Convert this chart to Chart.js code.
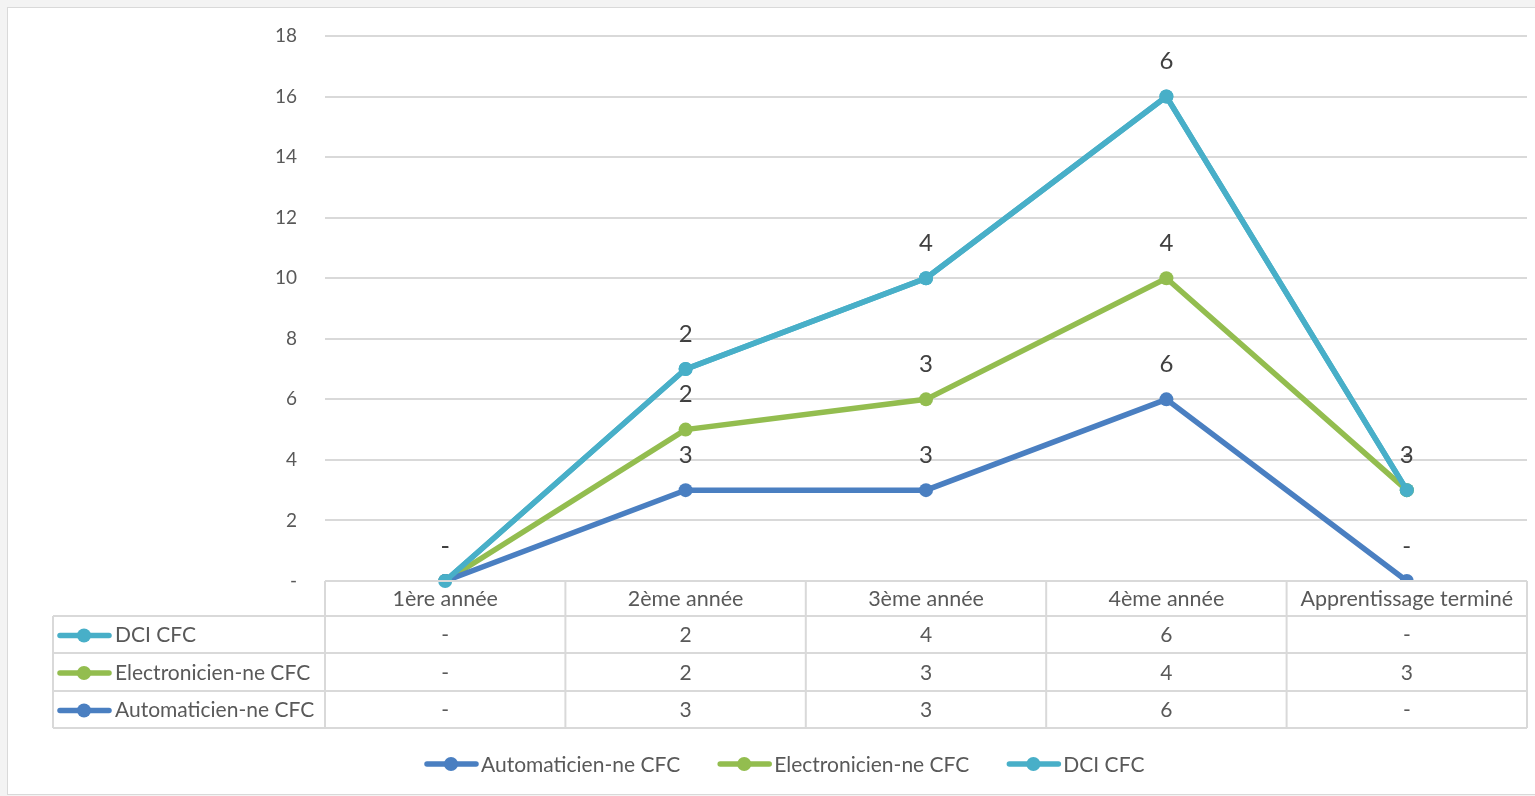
<!DOCTYPE html>
<html>
<head>
<meta charset="utf-8">
<title>Apprentis par année</title>
<script src="https://cdn.jsdelivr.net/npm/chart.js@4.4.1/dist/chart.umd.min.js"></script>
<style>
  html, body { margin: 0; padding: 0; background: #f3f3f3; }
  #frame { position: absolute; left: 7px; top: 7px; width: 1540px; height: 786px; background: #fff; border: 1px solid #d9d9d9; }
  canvas { position: absolute; left: 0; top: 0; }
</style>
</head>
<body>
<div id="frame"></div>
<canvas id="chart" width="1535" height="796"></canvas>
<script>
// Categories (school years)
const categories = ['1ère année', '2ème année', '3ème année', '4ème année', 'Apprentissage terminé'];

// Apprentices per trade and year (stacked in the chart)
const automaticien = [0, 3, 3, 6, 0];
const electronicien = [0, 2, 3, 4, 3];
const dci = [0, 2, 4, 6, 0];

const seriesNames = ['Automaticien-ne CFC', 'Electronicien-ne CFC', 'DCI CFC'];
const seriesColors = ['#4a7fc1', '#93bd4f', '#48afc8'];

// Y axis ticks
const yTicks = [0, 2, 4, 6, 8, 10, 12, 14, 16, 18];

const FONT = 'Lato, "Open Sans", sans-serif';
const TEXT = '#595959';
const GRID = '#d9d9d9';

const fmt = v => (v === 0 ? '-' : String(v));

// Draws the value labels, the data table under the plot and the legend
const extras = {
  id: 'extras',
  afterDatasetsDraw(chart) {
    const ctx = chart.ctx;
    // keep the DCI line on top of the others
    chart.getDatasetMeta(2).controller.draw();

    ctx.save();
    ctx.font = '24px ' + FONT;
    ctx.fillStyle = '#404040';
    ctx.textAlign = 'center';
    ctx.textBaseline = 'middle';
    chart.data.datasets.forEach((ds, di) => {
      const meta = chart.getDatasetMeta(di);
      meta.data.forEach((pt, i) => {
        ctx.fillText(fmt(ds.data[i]), pt.x, pt.y - 35);
      });
    });
    ctx.restore();
  },
  afterDraw(chart) {
    const ctx = chart.ctx;
    const area = chart.chartArea;
    const xs = chart.scales.x;
    const left = 53;
    const rowTop = area.bottom;
    const rowH = [35, 37, 38, 37];
    const ys = [rowTop];
    rowH.forEach(h => ys.push(ys[ys.length - 1] + h));
    const half = (xs.getPixelForValue(1) - xs.getPixelForValue(0)) / 2;
    const colEdges = categories.map((c, i) => xs.getPixelForValue(i) - half);
    colEdges.push(area.right);

    ctx.save();
    ctx.strokeStyle = GRID;
    ctx.lineWidth = 2;
    // horizontal rules
    ctx.beginPath();
    ctx.moveTo(area.left, ys[0]); ctx.lineTo(area.right, ys[0]);
    for (let r = 1; r < ys.length; r++) {
      ctx.moveTo(left, ys[r]); ctx.lineTo(area.right, ys[r]);
    }
    // vertical rules
    colEdges.forEach(x => { ctx.moveTo(x, ys[0]); ctx.lineTo(x, ys[ys.length - 1]); });
    ctx.moveTo(left, ys[1]); ctx.lineTo(left, ys[ys.length - 1]);
    ctx.stroke();

    ctx.font = '21px ' + FONT;
    ctx.fillStyle = TEXT;
    ctx.textAlign = 'center';
    ctx.textBaseline = 'middle';
    ctx.save();
    ctx.font = '21.5px ' + FONT;
    categories.forEach((c, i) => ctx.fillText(c, xs.getPixelForValue(i), (ys[0] + ys[1]) / 2 + 1));
    ctx.restore();

    // table rows, top to bottom: DCI, Electronicien, Automaticien
    const rows = [2, 1, 0];
    rows.forEach((di, r) => {
      const cy = (ys[r + 1] + ys[r + 2]) / 2 + 1;
      const data = chart.data.datasets[di].data;
      ctx.textAlign = 'center';
      data.forEach((v, i) => ctx.fillText(fmt(v), xs.getPixelForValue(i), cy));
      drawKey(ctx, 58, cy, seriesColors[di]);
      ctx.fillStyle = TEXT;
      ctx.textAlign = 'left';
      ctx.fillText(seriesNames[di], 115, cy);
    });

    // legend
    const ly = 764;
    let x = 425;
    ctx.textAlign = 'left';
    seriesNames.forEach((name, di) => {
      drawKey(ctx, x, ly, seriesColors[di]);
      ctx.fillStyle = TEXT;
      ctx.fillText(name, x + 56, ly + 1);
      x += 56 + ctx.measureText(name).width + 38;
    });
    ctx.restore();
  }
};

function drawKey(ctx, x, y, color) {
  ctx.save();
  ctx.strokeStyle = color;
  ctx.fillStyle = color;
  ctx.lineWidth = 5.5;
  ctx.lineCap = 'round';
  ctx.beginPath();
  ctx.moveTo(x + 2, y); ctx.lineTo(x + 51, y);
  ctx.stroke();
  ctx.beginPath();
  ctx.arc(x + 26, y, 7, 0, Math.PI * 2);
  ctx.fill();
  ctx.restore();
}

const datasets = [automaticien, electronicien, dci].map((d, i) => ({
  label: seriesNames[i],
  data: d,
  borderColor: seriesColors[i],
  backgroundColor: seriesColors[i],
  borderWidth: 5.5,
  pointRadius: 7,
  pointHoverRadius: 7,
  pointBorderWidth: 0,
  fill: false,
  tension: 0
}));

new Chart(document.getElementById('chart'), {
  type: 'line',
  data: { labels: categories, datasets },
  plugins: [extras],
  options: {
    responsive: false,
    animation: false,
    events: [],
    layout: { padding: { top: 36, right: 8, bottom: 215, left: 0 } },
    plugins: { legend: { display: false }, tooltip: { enabled: false } },
    scales: {
      x: { display: false, offset: true, grid: { display: false } },
      y: {
        stacked: true,
        min: 0,
        max: 18,
        afterFit: s => { s.width = 325; },
        afterBuildTicks: s => { s.ticks = yTicks.map(v => ({ value: v })); },
        border: { display: false },
        grid: { color: GRID, lineWidth: 2, drawTicks: true, tickLength: 24, tickColor: 'rgba(0,0,0,0)' },
        ticks: {
          padding: 4,
          color: TEXT,
          font: { family: FONT, size: 19 },
          callback: v => fmt(v)
        }
      }
    }
  }
});
</script>
</body>
</html>
